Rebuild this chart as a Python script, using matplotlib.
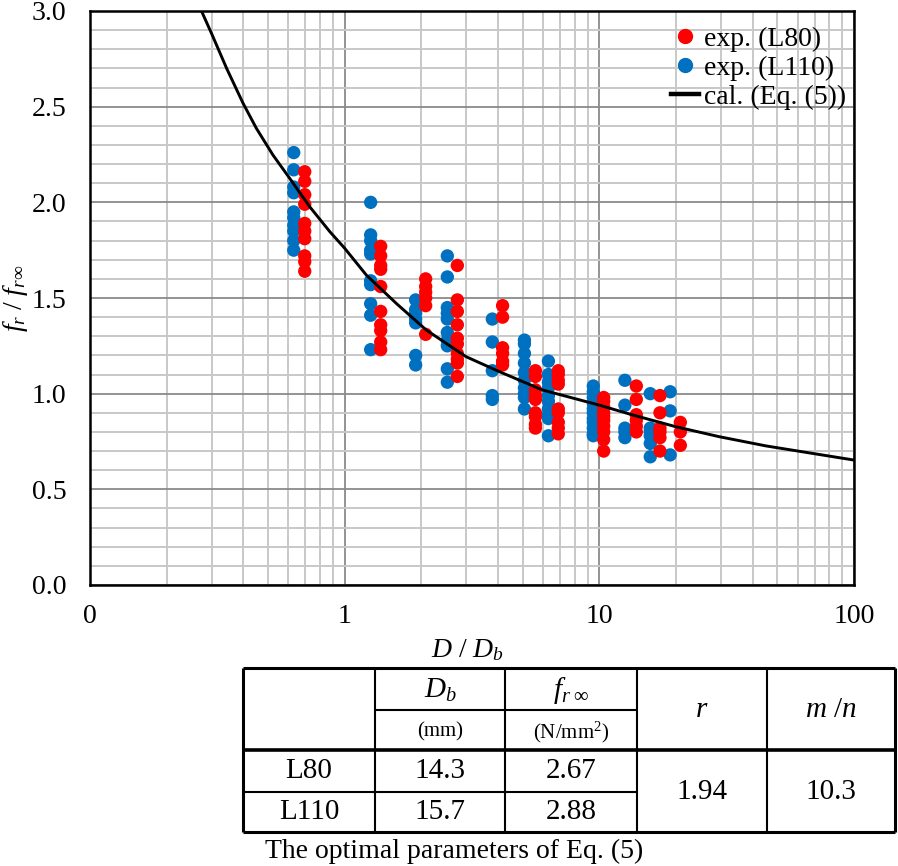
import matplotlib
matplotlib.use("Agg")
import matplotlib.pyplot as plt
from matplotlib.ticker import FixedLocator, FixedFormatter, MultipleLocator, NullFormatter
from matplotlib.lines import Line2D
import numpy as np

plt.rcParams['font.family'] = ['Liberation Serif', 'DejaVu Serif']
plt.rcParams['mathtext.fontset'] = 'custom'
plt.rcParams['mathtext.rm'] = 'Liberation Serif'
plt.rcParams['mathtext.it'] = 'Liberation Serif:italic'

# ---------------- data ----------------
# L80 (red) groups: x = D/Db, list of f_r/f_r_inf values
l80_x = [0.697, 1.385, 2.08, 2.77, 4.17, 5.61, 6.90, 10.4, 13.97, 17.3, 20.8]
l80_y = [
    [2.16, 2.11, 2.04, 1.99, 1.89, 1.85, 1.81, 1.72, 1.69, 1.64],
    [1.77, 1.72, 1.67, 1.65, 1.56, 1.43, 1.36, 1.33, 1.27, 1.23],
    [1.60, 1.56, 1.53, 1.50, 1.46, 1.31],
    [1.67, 1.49, 1.43, 1.36, 1.29, 1.26, 1.21, 1.18, 1.16, 1.09],
    [1.46, 1.40, 1.24, 1.21, 1.17, 1.15],
    [1.12, 1.09, 1.02, 0.99, 0.97, 0.90, 0.88, 0.84, 0.82],
    [1.12, 1.10, 1.07, 1.05, 0.92, 0.90, 0.85, 0.82, 0.79],
    [0.98, 0.96, 0.93, 0.90, 0.88, 0.86, 0.83, 0.80, 0.76, 0.70],
    [1.04, 0.97, 0.89, 0.86, 0.83, 0.80],
    [0.99, 0.90, 0.82, 0.80, 0.77, 0.70],
    [0.85, 0.80, 0.73],
]
# L110 (blue) groups
l110_x = [0.631, 1.265, 1.90, 2.53, 3.80, 5.08, 6.31, 9.47, 12.6, 15.85, 18.97]
l110_y = [
    [2.26, 2.17, 2.08, 2.05, 1.95, 1.92, 1.88, 1.85, 1.80, 1.75],
    [2.00, 1.83, 1.80, 1.75, 1.73, 1.59, 1.57, 1.47, 1.41, 1.23],
    [1.49, 1.44, 1.42, 1.39, 1.37, 1.20, 1.15],
    [1.72, 1.61, 1.45, 1.42, 1.39, 1.32, 1.28, 1.25, 1.13, 1.06],
    [1.39, 1.27, 1.12, 0.99, 0.97],
    [1.28, 1.26, 1.21, 1.16, 1.11, 1.07, 1.03, 1.00, 0.98, 0.92],
    [1.17, 1.10, 1.06, 1.03, 0.99, 0.96, 0.92, 0.89, 0.87, 0.78],
    [1.04, 1.01, 0.98, 0.95, 0.92, 0.90, 0.87, 0.85, 0.82, 0.79, 0.78],
    [1.07, 0.94, 0.82, 0.80, 0.77],
    [1.00, 0.82, 0.80, 0.78, 0.74, 0.67],
    [1.01, 0.91, 0.68],
]
# calculated curve (Eq. (5))
cal_x = [0.274, 0.300, 0.344, 0.399, 0.450, 0.523, 0.608, 0.729, 0.874, 1.0,
         1.216, 1.60, 2.09, 3.00, 4.05, 5.99, 9.94, 13.5, 20.0, 29.6, 45.1, 70.8, 100.0]
cal_y = [3.00, 2.883, 2.70, 2.518, 2.387, 2.247, 2.126, 1.977, 1.847, 1.760,
         1.620, 1.470, 1.333, 1.193, 1.115, 1.019, 0.941, 0.889, 0.827, 0.775, 0.727, 0.685, 0.653]

x_ticks = [0.1, 1, 10, 100]
x_tick_labels = ['0', '1', '10', '100']
y_ticks = [0.0, 0.5, 1.0, 1.5, 2.0, 2.5, 3.0]
y_tick_labels = ['0.0', '0.5', '1.0', '1.5', '2.0', '2.5', '3.0']

legend_labels = ['exp. (L80)', 'exp. (L110)', 'cal. (Eq. (5))']

# table contents
tab_rows = ['L80', 'L110']
tab_Db = ['14.3', '15.7']
tab_finf = ['2.67', '2.88']
tab_r = '1.94'
tab_mn = '10.3'
caption = 'The optimal parameters of Eq. (5)'

RED = '#FF0000'
BLUE = '#0070C0'

# ---------------- figure ----------------
W, H = 898, 866
fig = plt.figure(figsize=(W / 100, H / 100), dpi=100)
ax = fig.add_axes([90 / W, 1 - 585 / H, 764 / W, 574 / H])

ax.set_xscale('log')
ax.set_xlim(0.1, 100)
ax.set_ylim(0, 3)

ax.xaxis.set_major_locator(FixedLocator(x_ticks))
ax.xaxis.set_major_formatter(FixedFormatter(x_tick_labels))
minor_x = [m * 10.0 ** e for e in (-1, 0, 1) for m in range(2, 10)]
ax.xaxis.set_minor_locator(FixedLocator(minor_x))
ax.xaxis.set_minor_formatter(NullFormatter())
ax.yaxis.set_major_locator(FixedLocator(y_ticks))
ax.yaxis.set_major_formatter(FixedFormatter(y_tick_labels))
ax.yaxis.set_minor_locator(MultipleLocator(0.1))

ax.grid(which='minor', color='#c8c8c8', lw=1.4)
ax.grid(which='major', color='#8a8a8a', lw=1.3)
ax.set_axisbelow(True)
ax.tick_params(which='both', length=0, labelsize=20)
ax.tick_params(axis='x', pad=14)
ax.tick_params(axis='y', pad=17)
for s in ax.spines.values():
    s.set_linewidth(1.8)
    s.set_color('black')

ms = 92
for gx, gy in zip(l110_x, l110_y):
    ax.scatter([gx] * len(gy), gy, s=ms, color=BLUE, edgecolors='none', zorder=3)
for gx, gy in zip(l80_x, l80_y):
    ax.scatter([gx] * len(gy), gy, s=ms, color=RED, edgecolors='none', zorder=4)
ax.plot(cal_x, cal_y, color='black', lw=2.1, zorder=5, solid_capstyle='butt')

handles = [
    Line2D([], [], ls='none', marker='o', markersize=10, color=RED),
    Line2D([], [], ls='none', marker='o', markersize=10, color=BLUE),
    Line2D([], [], color='black', lw=3.2),
]
ax.legend(handles, legend_labels, loc='upper right',
          bbox_to_anchor=(1.0 - 2 / 764, 1.0 - 10 / 574),
          frameon=False, fontsize=20, handlelength=1.0, handletextpad=0.2,
          labelspacing=0.12, borderaxespad=0.1, borderpad=0.1)

fig.text(467 / W, 1 - 650 / H, r'$D\ /\ D_b$', fontsize=20, ha='center', va='center')
fig.text(15 / W, 1 - 298 / H, r'$f_r\ /\ f_{r\infty}$', fontsize=20, ha='center',
         va='center', rotation=90)

# ---------------- table ----------------
ov = fig.add_axes([0, 0, 1, 1])
ov.set_xlim(0, W)
ov.set_ylim(H, 0)
ov.axis('off')

cols = [243, 375, 505, 637, 767, 895]
top, split, thick, mid, bot = 668, 710, 750, 792, 832


def hline(y, x0, x1, lw=1.5):
    ov.plot([x0, x1], [y, y], color='black', lw=lw, solid_capstyle='butt')


def vline(x, y0, y1, lw=1.5):
    ov.plot([x, x], [y0, y1], color='black', lw=lw, solid_capstyle='butt')


hline(top, cols[0], cols[-1], 2.2)
hline(bot, cols[0], cols[-1], 2.2)
hline(thick, cols[0], cols[-1], 2.6)
hline(split, cols[1], cols[3], 1.5)
hline(mid, cols[0], cols[3], 1.5)
vline(cols[0], top, bot, 2.2)
vline(cols[-1], top, bot, 2.2)
for c in cols[1:-1]:
    vline(c, top, bot, 1.5)

cx = [(cols[i] + cols[i + 1]) / 2 for i in range(5)]
fs = 21
ov.text(cx[1], 690, r'$D_b$', fontsize=fs, ha='center', va='center')
ov.text(cx[2], 690, r'$f_{r\ \infty}$', fontsize=fs, ha='center', va='center')
ov.text(cx[1], 732, '(mm)', fontsize=15, ha='center', va='center')
ov.text(cx[2], 732, r'(N/mm$^2$)', fontsize=15, ha='center', va='center')
ov.text(cx[3], 710, r'$r$', fontsize=fs, ha='center', va='center')
ov.text(cx[4], 710, r'$m\ /n$', fontsize=fs, ha='center', va='center')
row_y = [771, 812]
for i in range(2):
    ov.text(cx[0], row_y[i], tab_rows[i], fontsize=fs, ha='center', va='center')
    ov.text(cx[1], row_y[i], tab_Db[i], fontsize=fs, ha='center', va='center')
    ov.text(cx[2], row_y[i], tab_finf[i], fontsize=fs, ha='center', va='center')
ov.text(cx[3], 792, tab_r, fontsize=fs, ha='center', va='center')
ov.text(cx[4], 792, tab_mn, fontsize=fs, ha='center', va='center')
ov.text(265, 851, caption, fontsize=20, ha='left', va='center')

fig.savefig('out.png', dpi=100)
